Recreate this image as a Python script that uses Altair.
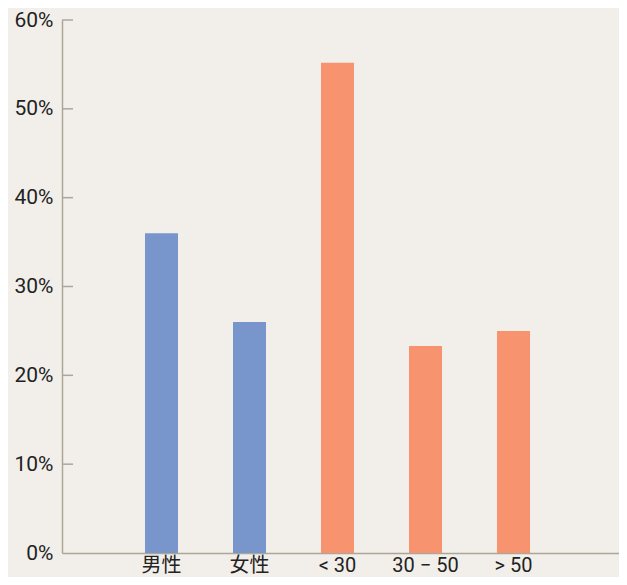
import altair as alt
import pandas as pd

categories = ["男性", "女性", "< 30", "30 − 50", "> 50"]
values = [0.36, 0.26, 0.552, 0.233, 0.25]
groups = ["性别", "性别", "年龄", "年龄", "年龄"]
axis_values = [0, 0.1, 0.2, 0.3, 0.4, 0.5, 0.6]
tick_values = [0.1, 0.2, 0.3, 0.4, 0.5, 0.6]

df = pd.DataFrame({"category": categories, "value": values, "group": groups})
ticks_df = pd.DataFrame({"t": tick_values})

AXIS = "#aaa798"
FONT = "Roboto, Noto Sans CJK SC, sans-serif"

yscale = alt.Scale(domain=[0, 0.6], nice=False)

bars = alt.Chart(df).mark_bar().encode(
    x=alt.X("category:N", sort=categories, title=None,
            scale=alt.Scale(paddingInner=0.625, paddingOuter=0.977, align=0.4826),
            axis=alt.Axis(labelAngle=0, ticks=False, labelPadding=2, labelFontSize=20,
                          labelFont=FONT, labelColor="#222222", domainColor=AXIS,
                          domainWidth=1.5)),
    y=alt.Y("value:Q", scale=yscale, title=None,
            axis=alt.Axis(values=axis_values, format=".0%", ticks=False,
                          grid=False, labelPadding=9, labelFontSize=21, labelFont=FONT,
                          labelColor="#222222", domainColor=AXIS, domainWidth=1.5)),
    color=alt.Color("group:N", scale=alt.Scale(domain=["性别", "年龄"],
                                               range=["#7896cc", "#f7936f"]), legend=None),
)

tickmarks = alt.Chart(ticks_df).mark_rule(color=AXIS, strokeWidth=1.5).encode(
    y=alt.Y("t:Q", scale=yscale),
    x=alt.value(0),
    x2=alt.value(11),
)

chart = alt.layer(bars, tickmarks).properties(
    width=557, height=533,
    autosize=alt.AutoSizeParams(type="none"),
    padding={"left": 54, "top": 12, "right": 0, "bottom": 24},
).configure(background="#f2efea").configure_view(stroke=None)

chart.save("out.html", embed_options={"renderer": "svg", "actions": False})
